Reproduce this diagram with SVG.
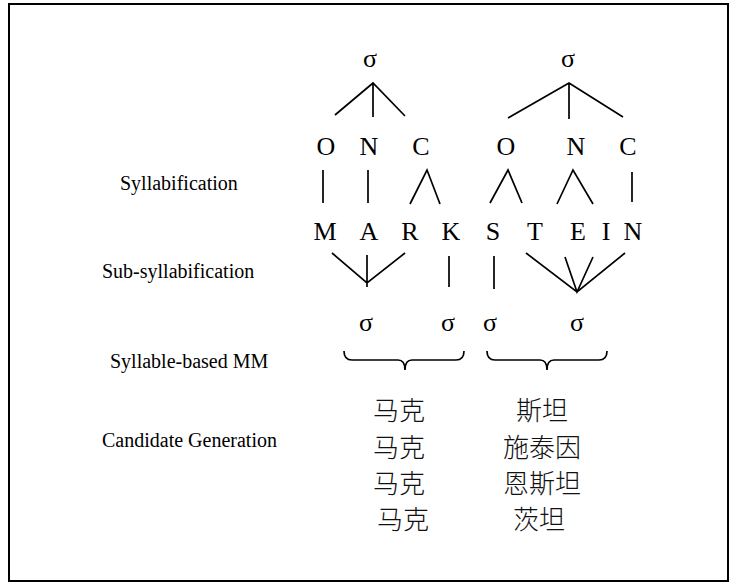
<svg xmlns="http://www.w3.org/2000/svg" width="730" height="583" viewBox="0 0 730 583">
<style>
.lbl{font-family:"Liberation Serif","Times New Roman",serif;font-size:20px;fill:#000}
.big{font-family:"Liberation Serif","Times New Roman",serif;font-size:26px;fill:#000;text-anchor:middle}
.cjk{font-family:"Noto Sans CJK SC",sans-serif;font-size:26px;font-weight:300;fill:#111;text-anchor:middle}
.ln{stroke:#000;stroke-width:1.7;fill:none;stroke-linecap:butt}
</style>
<rect x="9" y="4" width="719" height="577" fill="#fff" stroke="#000" stroke-width="2"/>
<g id="labels">
<text class="lbl" x="120" y="190">Syllabification</text>
<text class="lbl" x="102" y="278">Sub-syllabification</text>
<text class="lbl" x="110" y="368">Syllable-based MM</text>
<text class="lbl" x="102" y="447">Candidate Generation</text>
</g>
<g id="sigma-top">
<text class="big" x="370" y="67">σ</text>
<text class="big" x="568" y="67">σ</text>
</g>
<g id="onc">
<text class="big" x="326" y="155">O</text>
<text class="big" x="369" y="155">N</text>
<text class="big" x="421" y="155">C</text>
<text class="big" x="506" y="155">O</text>
<text class="big" x="576" y="155">N</text>
<text class="big" x="628" y="155">C</text>
</g>
<g id="letters">
<text class="big" x="325" y="240">M</text>
<text class="big" x="369" y="240">A</text>
<text class="big" x="410" y="240">R</text>
<text class="big" x="451" y="240">K</text>
<text class="big" x="493" y="240">S</text>
<text class="big" x="535" y="240">T</text>
<text class="big" x="578" y="240">E</text>
<text class="big" x="606" y="240">I</text>
<text class="big" x="633" y="240">N</text>
</g>
<g id="sigma-sub">
<text class="big" x="366" y="331">σ</text>
<text class="big" x="448" y="331">σ</text>
<text class="big" x="490" y="331">σ</text>
<text class="big" x="577" y="331">σ</text>
</g>
<g id="candidates">
<text class="cjk" x="399" y="420">马克</text>
<text class="cjk" x="399" y="457">马克</text>
<text class="cjk" x="399" y="493">马克</text>
<text class="cjk" x="403" y="529">马克</text>
<text class="cjk" x="542" y="420">斯坦</text>
<text class="cjk" x="542" y="457">施泰因</text>
<text class="cjk" x="542" y="493">恩斯坦</text>
<text class="cjk" x="539" y="529">茨坦</text>
</g>
<g id="connectors">
<path class="ln" d="M335,115 L373,83 L405,116 M373,83 L373,117"/>
<path class="ln" d="M508,118 L569,83 L623,117 M569,83 L569,119"/>
<path class="ln" d="M323,170 L323,203 M368,170 L368,203 M410,204 L427,170 L440,204"/>
<path class="ln" d="M490,203 L508,170 L522,203 M557,204 L573,170 L593,204 M632,172 L632,202"/>
<path class="ln" d="M332,253 L367,283 L405,253 M367,255 L367,287 M449,256 L449,287 M494,256 L494,289"/>
<path class="ln" d="M526,253 L577,292 L625,253 M565,257 L577,292 L593,257"/>
<path class="ln" d="M344,351 Q344,360 352,360 L398,360 Q405,360 405,370 Q405,360 412,360 L456,360 Q464,360 464,351"/>
<path class="ln" d="M487,351 Q487,360 495,360 L540,360 Q547,360 547,370 Q547,360 554,360 L599,360 Q607,360 607,351"/>
</g>
</svg>
